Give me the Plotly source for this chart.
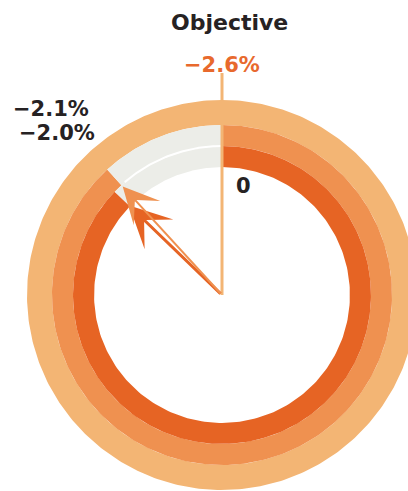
import numpy as np
import plotly.graph_objects as go

# ---- data ----
objective_label = "−2.6%"
series_names = ["Middle ring", "Inner ring"]
series_labels = ["−2.1%", "−2.0%"]
series_share = [0.882, 0.872]      # share of the full circle reached (clockwise from top)
zero_label = "0"

# ---- styles ----
C_OUT = "#F3B574"
C_MID = "#EF9150"
C_IN = "#E66424"
C_GAP = "#ECEDE8"
C_TXT = "#262223"
C_OBJ = "#E8692D"

W, H = 408, 491
CX, CY, S = 222, 295, 195.0  # centre (px) and px per unit

R_OUT = (1.0, 0.872)
R_MID = (0.872, 0.764)
R_IN = (0.764, 0.656)


def ang(share):
    return share * 2 * np.pi  # clockwise from 12 o'clock


def wedge(r_o, r_i, a0, a1, n=240):
    t = np.linspace(a0, a1, n)
    xo, yo = r_o * np.sin(t), r_o * np.cos(t)
    xi, yi = r_i * np.sin(t[::-1]), r_i * np.cos(t[::-1])
    return np.r_[xo, xi, xo[:1]], np.r_[yo, yi, yo[:1]]


fig = go.Figure()


def add_poly(xy, color):
    fig.add_trace(go.Scatter(x=xy[0], y=xy[1], mode="lines", fill="toself",
                             fillcolor=color, line=dict(width=0, color=color),
                             hoverinfo="skip", showlegend=False))


# outer full ring (objective)
add_poly(wedge(*R_OUT, 0, ang(1.0), 400), C_OUT)
# middle ring
add_poly(wedge(*R_MID, 0, ang(series_share[0])), C_MID)
add_poly(wedge(*R_MID, ang(series_share[0]), ang(1.0), 80), C_GAP)
# inner ring
add_poly(wedge(*R_IN, 0, ang(series_share[1])), C_IN)
add_poly(wedge(*R_IN, ang(series_share[1]), ang(1.0), 80), C_GAP)
# white separator in the gap
t = np.linspace(ang(series_share[0]) + 0.03, ang(1.0), 60)
fig.add_trace(go.Scatter(x=R_MID[1] * np.sin(t), y=R_MID[1] * np.cos(t), mode="lines",
                         line=dict(color="white", width=2), hoverinfo="skip", showlegend=False))

# objective line
obj_top = (CY - 73) / S
fig.add_trace(go.Scatter(x=[0, obj_top * np.sin(ang(1.0))], y=[0, obj_top * np.cos(ang(1.0))],
                         mode="lines", line=dict(color=C_OUT, width=3),
                         hoverinfo="skip", showlegend=False))

# arrows
arrows = [
    (series_share[1], R_IN[1] + 0.005, C_IN, 3, 2.3),
    (series_share[0], R_MID[1] - 0.01, C_MID, 2, 3.0),
]
for share, r, col, w, sz in arrows:
    a = ang(share)
    fig.add_annotation(x=r * np.sin(a), y=r * np.cos(a), ax=0, ay=0,
                       xref="x", yref="y", axref="x", ayref="y",
                       showarrow=True, arrowhead=3, arrowwidth=w, arrowsize=sz,
                       arrowcolor=col, standoff=0, text="")


def px_text(text, px, py, color, size=21):
    fig.add_annotation(x=px / W, y=1 - py / H, xref="paper", yref="paper",
                       text=text, showarrow=False, xanchor="center", yanchor="middle",
                       font=dict(family="DejaVu Sans", size=size, color=color, weight="bold"))


px_text("Objective", 229, 22, C_TXT, 22)
px_text(objective_label, 222.5, 65, C_OBJ, 21)
px_text(series_labels[0], 51, 109, C_TXT, 21)
px_text(series_labels[1], 56.5, 132.5, C_TXT, 21)
px_text(zero_label, 243.5, 186, C_TXT, 21)

fig.update_layout(
    width=W, height=H, margin=dict(l=0, r=0, t=0, b=0),
    paper_bgcolor="white", plot_bgcolor="white", showlegend=False,
    xaxis=dict(range=[-CX / S, (W - CX) / S], visible=False, fixedrange=True),
    yaxis=dict(range=[-(H - CY) / S, CY / S], visible=False, fixedrange=True),
)

fig.write_html("out.html")
